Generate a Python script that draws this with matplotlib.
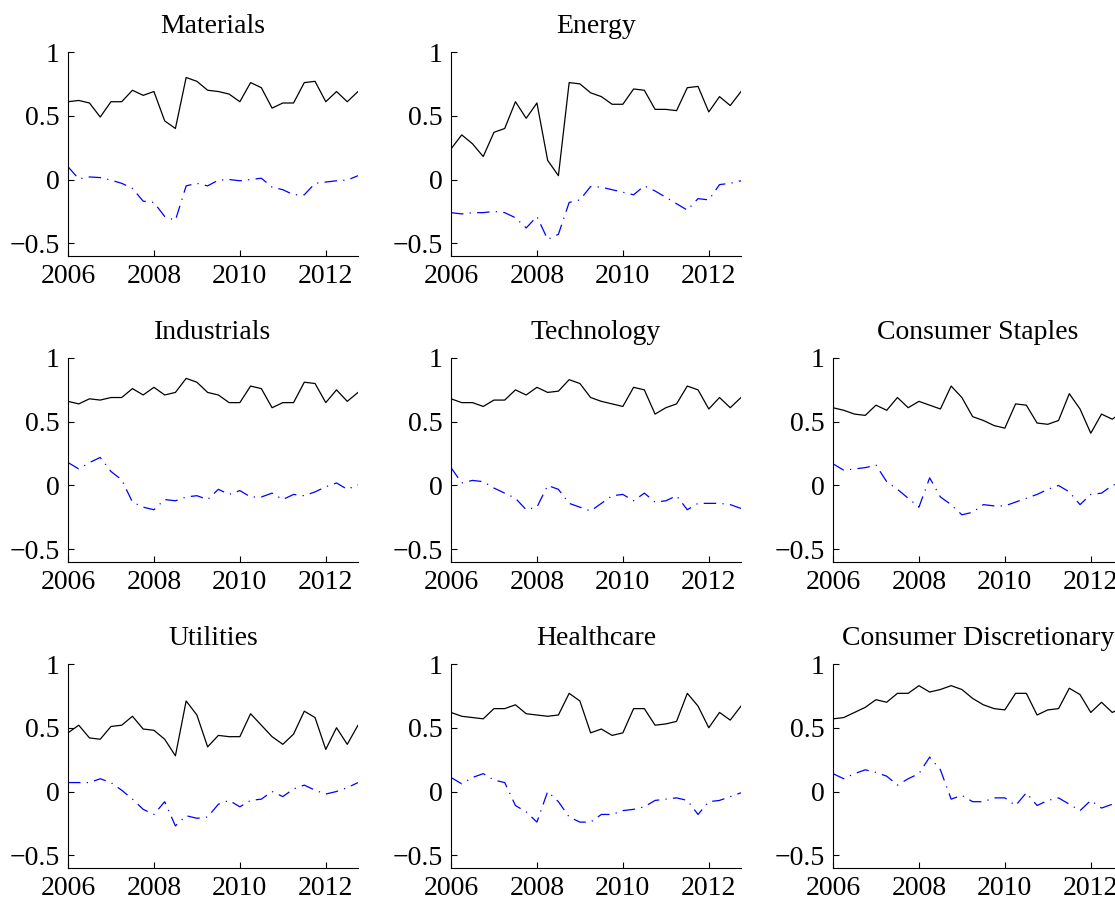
import numpy as np
import matplotlib
matplotlib.use("Agg")
import matplotlib.pyplot as plt

plt.rcParams['font.family'] = ['Liberation Serif', 'DejaVu Serif']

# quarterly dates 2006Q1 .. 2012Q4
dates = [2006 + q / 4 for q in range(28)]

titles = ["Materials", "Energy", None,
          "Industrials", "Technology", "Consumer Staples",
          "Utilities", "Healthcare", "Consumer Discretionary"]

materials_solid = [0.61, 0.62, 0.60, 0.49, 0.61, 0.61, 0.70, 0.66, 0.69, 0.46, 0.40, 0.80, 0.77, 0.70,
                   0.69, 0.67, 0.61, 0.76, 0.72, 0.56, 0.60, 0.60, 0.76, 0.77, 0.61, 0.69, 0.61, 0.69]
materials_dash = [0.10, 0.005, 0.02, 0.015, -0.005, -0.03, -0.07, -0.17, -0.18, -0.29, -0.32, -0.05, -0.03, -0.05,
                  -0.005, 0.0, -0.01, 0.0, 0.01, -0.06, -0.08, -0.12, -0.12, -0.03, -0.02, -0.01, -0.005, 0.03]

energy_solid = [0.24, 0.35, 0.28, 0.18, 0.37, 0.40, 0.61, 0.48, 0.60, 0.15, 0.03, 0.76, 0.75, 0.68,
                0.65, 0.59, 0.59, 0.71, 0.70, 0.55, 0.55, 0.54, 0.72, 0.73, 0.53, 0.65, 0.58, 0.69]
energy_dash = [-0.26, -0.27, -0.26, -0.26, -0.25, -0.26, -0.30, -0.38, -0.29, -0.47, -0.43, -0.18, -0.16, -0.055,
               -0.06, -0.08, -0.10, -0.12, -0.05, -0.09, -0.14, -0.19, -0.24, -0.15, -0.16, -0.04, -0.03, -0.01]

industrials_solid = [0.66, 0.64, 0.68, 0.67, 0.69, 0.69, 0.76, 0.71, 0.77, 0.71, 0.73, 0.84, 0.81, 0.73,
                     0.71, 0.65, 0.65, 0.78, 0.76, 0.61, 0.65, 0.65, 0.81, 0.80, 0.65, 0.75, 0.66, 0.73]
industrials_dash = [0.18, 0.13, 0.18, 0.22, 0.11, 0.045, -0.13, -0.17, -0.19, -0.11, -0.12, -0.09, -0.08, -0.11,
                    -0.03, -0.07, -0.04, -0.09, -0.09, -0.06, -0.11, -0.07, -0.08, -0.05, -0.01, 0.02, -0.03, 0.005]

technology_solid = [0.68, 0.65, 0.65, 0.62, 0.67, 0.67, 0.75, 0.71, 0.77, 0.73, 0.74, 0.83, 0.80, 0.69,
                    0.66, 0.64, 0.62, 0.77, 0.75, 0.56, 0.61, 0.64, 0.78, 0.75, 0.60, 0.69, 0.61, 0.69]
technology_dash = [0.14, 0.02, 0.04, 0.03, -0.02, -0.06, -0.10, -0.19, -0.17, 0.0, -0.03, -0.14, -0.17, -0.20,
                   -0.14, -0.08, -0.07, -0.12, -0.06, -0.13, -0.12, -0.08, -0.19, -0.14, -0.14, -0.14, -0.15, -0.18]

staples_solid = [0.61, 0.59, 0.56, 0.55, 0.63, 0.59, 0.69, 0.61, 0.66, 0.63, 0.60, 0.78, 0.69, 0.54,
                 0.51, 0.47, 0.45, 0.64, 0.63, 0.49, 0.48, 0.51, 0.72, 0.60, 0.41, 0.56, 0.52, 0.58]
staples_dash = [0.17, 0.12, 0.13, 0.14, 0.16, 0.03, -0.03, -0.10, -0.17, 0.06, -0.09, -0.15, -0.23, -0.21,
                -0.15, -0.16, -0.16, -0.13, -0.10, -0.07, -0.03, 0.0, -0.05, -0.15, -0.07, -0.06, 0.0, 0.03]

utilities_solid = [0.46, 0.52, 0.42, 0.41, 0.51, 0.52, 0.59, 0.49, 0.48, 0.41, 0.28, 0.71, 0.60, 0.35,
                   0.44, 0.43, 0.43, 0.61, 0.52, 0.43, 0.37, 0.45, 0.63, 0.58, 0.33, 0.50, 0.37, 0.52]
utilities_dash = [0.07, 0.07, 0.07, 0.10, 0.07, 0.01, -0.06, -0.14, -0.18, -0.08, -0.27, -0.19, -0.21, -0.20,
                  -0.10, -0.07, -0.12, -0.07, -0.06, 0.0, -0.04, 0.02, 0.05, 0.01, -0.02, 0.0, 0.03, 0.07]

healthcare_solid = [0.62, 0.59, 0.58, 0.57, 0.65, 0.65, 0.68, 0.61, 0.60, 0.59, 0.60, 0.77, 0.71, 0.46,
                    0.49, 0.44, 0.46, 0.65, 0.65, 0.52, 0.53, 0.55, 0.77, 0.67, 0.50, 0.62, 0.56, 0.67]
healthcare_dash = [0.11, 0.06, 0.11, 0.14, 0.09, 0.07, -0.11, -0.16, -0.24, 0.0, -0.08, -0.20, -0.24, -0.24,
                   -0.18, -0.18, -0.15, -0.14, -0.12, -0.07, -0.06, -0.05, -0.07, -0.18, -0.08, -0.07, -0.04, -0.01]

discretionary_solid = [0.57, 0.58, 0.62, 0.66, 0.72, 0.70, 0.77, 0.77, 0.83, 0.78, 0.80, 0.83, 0.80, 0.73,
                       0.68, 0.65, 0.64, 0.77, 0.77, 0.60, 0.64, 0.65, 0.81, 0.76, 0.62, 0.70, 0.62, 0.66]
discretionary_dash = [0.14, 0.10, 0.14, 0.17, 0.15, 0.12, 0.05, 0.10, 0.14, 0.27, 0.17, -0.06, -0.03, -0.08,
                      -0.08, -0.05, -0.05, -0.11, -0.01, -0.11, -0.07, -0.05, -0.10, -0.15, -0.07, -0.13, -0.10, -0.08]

solid_series = [materials_solid, energy_solid, None,
                industrials_solid, technology_solid, staples_solid,
                utilities_solid, healthcare_solid, discretionary_solid]
dash_series = [materials_dash, energy_dash, None,
               industrials_dash, technology_dash, staples_dash,
               utilities_dash, healthcare_dash, discretionary_dash]

W, H = 1115, 901
fig = plt.figure(figsize=(W / 100, H / 100), dpi=100)

col_left = [68, 451, 833]
row_top = [52, 358, 664]
ax_w, ax_h = 290, 204

for k in range(9):
    if titles[k] is None:
        continue
    r, c = divmod(k, 3)
    ax = fig.add_axes([col_left[c] / W, 1 - (row_top[r] + ax_h) / H, ax_w / W, ax_h / H])
    ax.plot(dates, solid_series[k], color='black', lw=0.9)
    ax.plot(dates, dash_series[k], color='#0000ff', lw=0.9, linestyle=(0, (10, 5, 1, 5)))
    ax.set_xlim(2006, 2012.75)
    ax.set_ylim(-0.6, 1)
    ax.set_xticks([2006, 2008, 2010, 2012])
    ax.set_xticklabels(["2006", "2008", "2010", "2012"])
    ax.set_yticks([-0.5, 0, 0.5, 1])
    ax.set_yticklabels(["\u22120.5", "0", "0.5", "1"])
    ax.spines['top'].set_visible(False)
    ax.spines['right'].set_visible(False)
    ax.spines['left'].set_linewidth(0.8)
    ax.spines['bottom'].set_linewidth(0.8)
    ax.tick_params(direction='in', length=4, width=0.8, labelsize=20)
    ax.tick_params(axis='y', pad=6)
    ax.tick_params(axis='x', pad=6)
    ax.set_title(titles[k], fontsize=20, pad=14)

fig.savefig("out.png", dpi=100)
